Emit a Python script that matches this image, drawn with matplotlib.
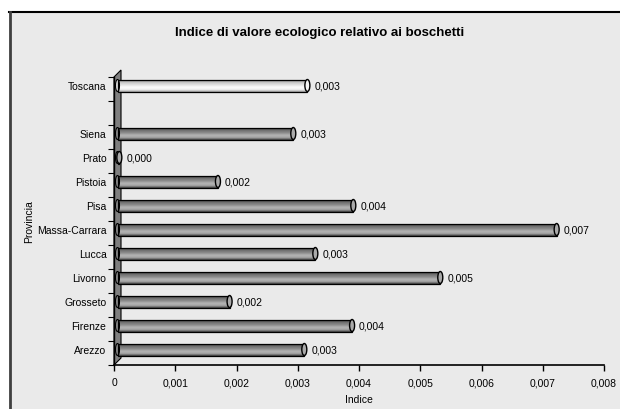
import matplotlib
matplotlib.use("Agg")
import matplotlib.pyplot as plt
import matplotlib.transforms as mtransforms
from matplotlib.colors import LinearSegmentedColormap
from matplotlib.patches import Ellipse, Polygon, Rectangle
import numpy as np

plt.rcParams['font.family'] = ['Liberation Sans', 'DejaVu Sans']

# indice di valore ecologico per provincia (dal basso verso l'alto)
province = ['Arezzo', 'Firenze', 'Grosseto', 'Livorno', 'Lucca', 'Massa-Carrara',
            'Pisa', 'Pistoia', 'Prato', 'Siena', '', 'Toscana']
valori = [0.00305, 0.00383, 0.00183, 0.00527, 0.00323, 0.00717,
          0.00385, 0.00164, 0.00003, 0.00287, None, 0.00310]
xticks = [0, 0.001, 0.002, 0.003, 0.004, 0.005, 0.006, 0.007, 0.008]

W, H = 620, 410
fig = plt.figure(figsize=(W / 100, H / 100), dpi=100)
fig.patch.set_facecolor('white')

# sfondo grigio del riquadro con bordo
fig.patches.append(Rectangle((9 / W, 0), 1, 1 - 13 / H, transform=fig.transFigure,
                             facecolor='#eaeaea', edgecolor='none', zorder=-5))
fig.lines.append(plt.Line2D([9 / W, 1], [1 - 13 / H, 1 - 13 / H], transform=fig.transFigure,
                            color='black', lw=1.5, zorder=-4))
fig.lines.append(plt.Line2D([9.5 / W, 9.5 / W], [0, 1 - 13 / H], transform=fig.transFigure,
                            color='#404040', lw=2, zorder=-4))

ax = fig.add_axes([114 / W, 1 - 366 / H, 490 / W, 288 / H])
ax.patch.set_alpha(0)
ax.set_xlim(0, 0.008)
ax.set_ylim(-0.5, 11.5)

# profondità 3D: barre spostate in alto a destra
depth = 3.5 / 100
shift = mtransforms.ScaledTranslation(depth, depth, fig.dpi_scale_trans)
tr = ax.transData + shift

# parete laterale
dx, dy = 7 / 490, 7 / 288
wall = Polygon([(0, 0), (0, 1), (dx, 1 + dy), (dx, dy)], closed=True,
               transform=ax.transAxes, facecolor='#7f7f7f', edgecolor='black',
               lw=0.8, clip_on=False, zorder=1)
ax.add_patch(wall)

cm_grey = LinearSegmentedColormap.from_list(
    'cil', ['#3c3c3c', '#a4a4a4', '#b4b4b4', '#8c8c8c', '#727272', '#464646'])
cm_light = LinearSegmentedColormap.from_list(
    'cil_l', ['#9a9a9a', '#f0f0f0', '#fcfcfc', '#e2e2e2', '#c8c8c8', '#8e8e8e'])
grad = np.linspace(1, 0, 64).reshape(-1, 1)

h = 0.5
cap_w = 5 / 490 * 0.008
for i, (nome, v) in enumerate(zip(province, valori)):
    if v is None:
        continue
    cmap = cm_light if nome == 'Toscana' else cm_grey
    body = Rectangle((0, i - h / 2), v, h, transform=tr, facecolor='none',
                     edgecolor='black', lw=0.9, zorder=3)
    ax.add_patch(body)
    img = ax.imshow(grad, extent=[0, v, i - h / 2, i + h / 2], aspect='auto',
                    cmap=cmap, transform=tr, zorder=2, interpolation='bilinear')
    img.set_clip_path(body)
    # estremità arrotondate del cilindro
    ax.add_patch(Ellipse((0, i), cap_w * 0.8, h, transform=tr, facecolor=cmap(0.6),
                         edgecolor='black', lw=0.8, zorder=2))
    ax.add_patch(Ellipse((v, i), cap_w, h, transform=tr, facecolor=cmap(0.45),
                         edgecolor='black', lw=1.0, zorder=4))
    ax.annotate(f'{v:.3f}'.replace('.', ','), (v, i), xycoords=tr,
                xytext=(5, 0), textcoords='offset points', ha='left',
                va='center', fontsize=7.5, zorder=5)

ax.set_xlim(0, 0.008)
ax.set_ylim(-0.5, 11.5)

for s in ['top', 'right']:
    ax.spines[s].set_visible(False)
ax.spines['left'].set_linewidth(1)
ax.spines['bottom'].set_linewidth(1.2)

ax.set_xticks(xticks)
ax.set_xticklabels(['0'] + [f'{t:.3f}'.replace('.', ',') for t in xticks[1:]], fontsize=7.5)
ax.tick_params(axis='x', length=4, width=1, pad=5)

ax.set_yticks(range(len(province)))
ax.set_yticklabels(province, fontsize=7.5)
ax.set_yticks(np.arange(-0.5, 12, 1), minor=True)
ax.tick_params(axis='y', which='major', length=0, pad=8)
ax.tick_params(axis='y', which='minor', length=4.5, width=0.8)
for lab in ax.get_yticklabels():
    lab.set_transform(lab.get_transform() + shift)

ax.set_xlabel('Indice', fontsize=7.5)
ax.xaxis.set_label_coords(0.5, -0.10)
ax.set_ylabel('Provincia', fontsize=7.5)
ax.yaxis.set_label_coords(-0.164, 0.5)

fig.text(320 / W, 1 - 33 / H, 'Indice di valore ecologico relativo ai boschetti',
         ha='center', va='center', fontsize=9.5, fontweight='bold')

fig.savefig('out.png', dpi=100)
